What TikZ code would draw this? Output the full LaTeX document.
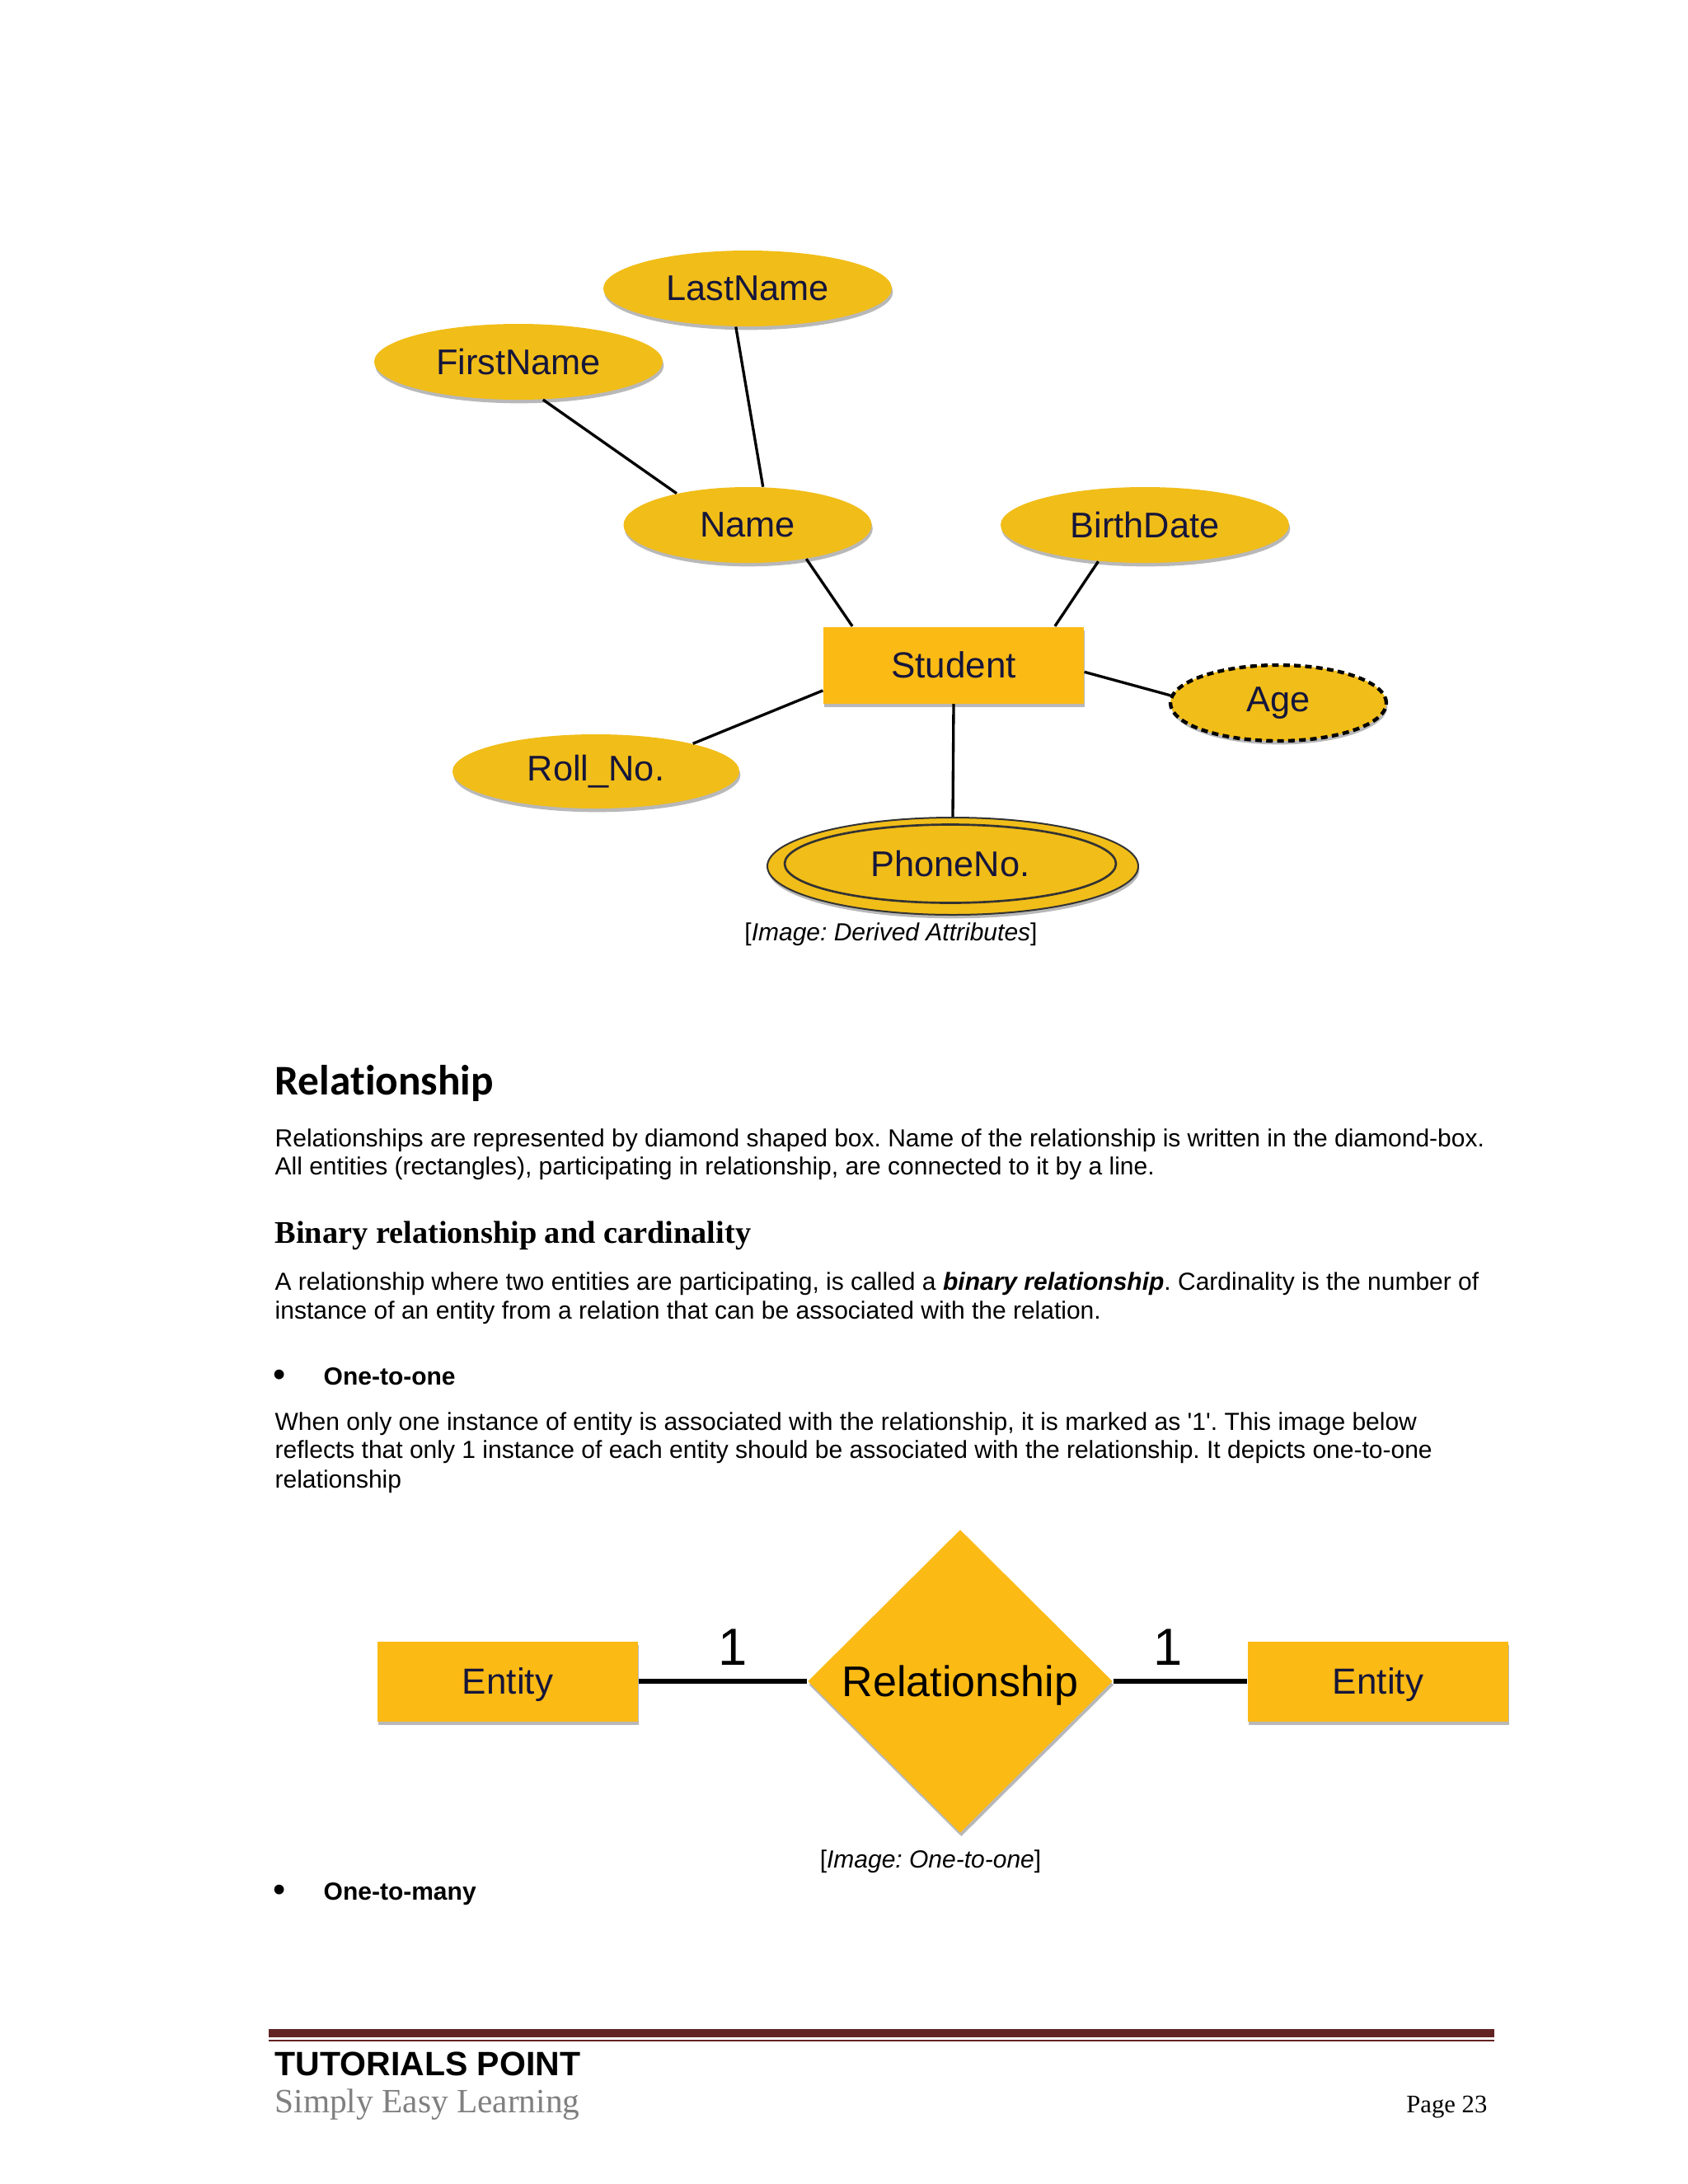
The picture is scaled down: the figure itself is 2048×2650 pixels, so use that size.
\documentclass[tikz,border=0pt]{standalone}
\usepackage{fontspec}
\setmainfont{Liberation Sans}
\newfontfamily\serifface{Liberation Serif}
\newfontfamily\headface[Ligatures=NoCommon]{Carlito}
\usepackage{xcolor}
\definecolor{erGold}{HTML}{F1BD18}
\definecolor{erAmber}{HTML}{FCBA14}
\definecolor{erInk}{HTML}{16163A}
\definecolor{ruleMaroon}{HTML}{622423}
\definecolor{tagGray}{HTML}{808080}
\usetikzlibrary{shapes.geometric,shadows,positioning}
\frenchspacing

\begin{document}
\begin{tikzpicture}[x=0.3pt,y=-0.3pt,
  soft/.style={drop shadow={shadow xshift=0.4pt,shadow yshift=-1.3pt,opacity=0.28,fill=black}},
  attr/.style={ellipse,fill=erGold,inner sep=0pt,minimum width=105pt,minimum height=27.6pt,
               font=\fontsize{13}{15}\selectfont,text=erInk,soft},
  ent/.style={rectangle,fill=erAmber,inner sep=0pt,minimum width=94.8pt,minimum height=28pt,
              font=\fontsize{13.2}{15}\selectfont,text=erInk,soft},
  rel/.style={diamond,fill=erAmber,inner sep=0pt,minimum width=111pt,minimum height=110.4pt,
              font=\fontsize{15.6}{18}\selectfont,text=black,soft},
  link/.style={line width=1pt},
  bond/.style={line width=1.7pt},
  card/.style={font=\fontsize{19}{20}\selectfont,inner sep=0pt,above=5pt},
  body/.style={anchor=base west,inner sep=0pt,font=\fontsize{9}{10.3}\selectfont},
  bullet/.style={anchor=base west,inner sep=0pt,font=\fontsize{13}{13}\selectfont},
  caption/.style={anchor=base,inner sep=0pt,font=\fontsize{9}{10.3}\selectfont}
]
\useasboundingbox[fill=white] (0,0) rectangle (2048,2650);

% attributes of Student
\node[attr] (last) at (907,350) {LastName};
\node[attr] (first) at (629,439) {FirstName};
\node[attr,minimum width=90.3pt] (name) at (907,637) {Name};
\node[attr] (birth) at (1389,637) {BirthDate};
\node[ent,minimum height=27.9pt] (student) at (1157,807) {Student};
\node[attr,minimum width=78.6pt,draw=black,line width=1.3pt,dash pattern=on 2.4pt off 1.6pt] (age) at (1551,853) {Age};
\node[attr,minimum width=104.4pt,minimum height=27pt] (roll) at (723,936) {Roll\_No.};
\node[attr,minimum width=135pt,minimum height=35.4pt,draw=black!80,line width=0.6pt] (phone) at (1156,1051) {};
\node[ellipse,draw=black!80,line width=0.8pt,inner sep=0pt,minimum width=120.6pt,minimum height=28.5pt,
      font=\fontsize{13}{15}\selectfont,text=erInk] (phonein) at (1153,1048) {PhoneNo.};

\draw[link] (first.-57) -- (name.156);
\draw[link] (last.-107) -- (name.68);
\draw[link] (name.-30) -- (student.159);
\draw[link] (birth.218) -- (student.21);
\draw[link] (student.-3) -- (age.176);
\draw[link] (student.191) -- (roll.16);
\draw[link] (student.south) -- (phone.north);

\node[caption] (cap1) at (1081,1141) {[\textit{Image: Derived Attributes}]};

% text of the page
\node[body,font=\headface\bfseries\fontsize{15.4}{18}\selectfont] (h1) at (333,1328) {Relationship};
\node[body] (p1a) at (333,1391) {Relationships are represented by diamond shaped box. Name of the relationship is written in the diamond-box.};
\node[body] (p1b) at (333,1425) {All entities (rectangles), participating in relationship, are connected to it by a line.};
\node[body,font=\serifface\bfseries\fontsize{11.5}{13}\selectfont] (h2) at (333,1508) {Binary relationship and cardinality};
\node[body] (p2a) at (333,1565) {A relationship where two entities are participating, is called a \textbf{\textit{binary relationship}}. Cardinality is the number of};
\node[body] (p2b) at (333,1600) {instance of an entity from a relation that can be associated with the relation.};
\node[bullet] (dot1) at (331,1682) {\textbullet};
\node[body,font=\bfseries\fontsize{9}{10.3}\selectfont] (b1) at (392,1680) {One-to-one};
\node[body] (p3a) at (333,1735) {When only one instance of entity is associated with the relationship, it is marked as \textquotesingle 1\textquotesingle. This image below};
\node[body] (p3b) at (333,1769) {reflects that only 1 instance of each entity should be associated with the relationship. It depicts one-to-one};
\node[body] (p3c) at (333,1805) {relationship};

% one-to-one
\node[ent,minimum height=29.1pt,text depth=0pt] (e1) at (616,2040) {Entity};
\node[rel,text depth=0pt] (r) at (1165,2040) {Relationship};
\node[ent,minimum height=29.1pt,text depth=0pt] (e2) at (1672,2040) {Entity};
\draw[bond] (e1) -- node[card,pos=0.56]{1} (r);
\draw[bond] (r) -- node[card,pos=0.41]{1} (e2);

\node[caption] (cap2) at (1129,2266) {[\textit{Image: One-to-one}]};
\node[bullet] (dot2) at (331,2307) {\textbullet};
\node[body,font=\bfseries\fontsize{9}{10.3}\selectfont] (b2) at (392,2305) {One-to-many};

% footer
\draw[ruleMaroon,line width=3pt] (326,2467) -- (1813,2467);
\draw[ruleMaroon,line width=0.6pt] (326,2475.5) -- (1813,2475.5);
\node[body,font=\bfseries\fontsize{12.3}{14}\selectfont] (brand) at (333,2518) {TUTORIALS POINT};
\node[body,font=\serifface\fontsize{12.4}{14}\selectfont,text=tagGray] (motto) at (333,2563) {Simply Easy Learning};
\node[anchor=base east,inner sep=0pt,font=\serifface\fontsize{9.2}{11}\selectfont] (page) at (1805,2563) {Page 23};
\end{tikzpicture}
\end{document}
